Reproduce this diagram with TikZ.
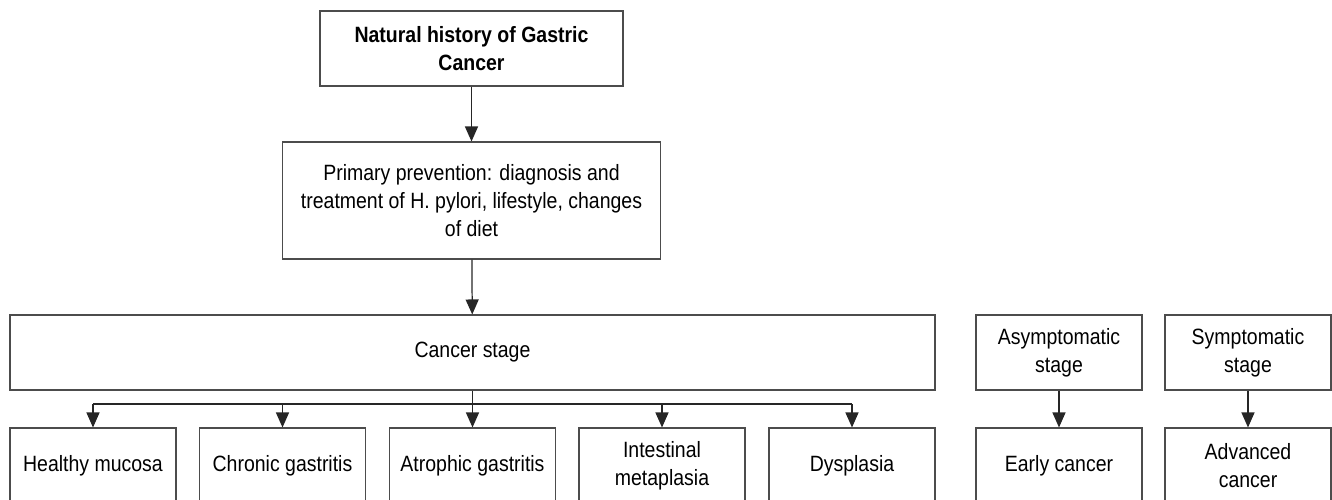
\documentclass[tikz,border=0pt]{standalone}
\usepackage{fontspec}
\setmainfont{Liberation Sans}[FakeStretch=0.88]
\usetikzlibrary{arrows.meta, positioning}
\tikzset{
  box/.style={draw=black!70, line width=0.6pt, minimum width=3.32cm, minimum height=1.5cm, align=center, inner sep=2pt, font=\fontsize{12.6}{16}\selectfont},
  titlebox/.style={box, font=\fontsize{12.6}{16}\selectfont\bfseries},
  arr/.style={-{Triangle[length=0.3cm, width=0.26cm]}, black!85, line width=0.7pt},
  link/.style={black!85, line width=0.7pt}
}

\begin{document}
\begin{tikzpicture}
\useasboundingbox (0,0) rectangle (26.64,9.98);
\clip (0,0) rectangle (26.64,9.98);
\node[titlebox, minimum width=6.06cm] (hist) at (9.43,9.01) {Natural history of Gastric\\Cancer};
\node[box, minimum width=7.56cm, minimum height=2.34cm] (prev) at (9.43,5.97) {Primary prevention: diagnosis and\\treatment of H. pylori, lifestyle, changes\\of diet};
\node[box, minimum width=18.5cm] (stage) at (9.45,2.93) {Cancer stage};
\node[box] (asym) at (21.18,2.93) {Asymptomatic\\stage};
\node[box] (symp) at (24.96,2.93) {Symptomatic\\stage};
\node[box] (healthy) at (1.86,0.67) {Healthy mucosa};
\node[box] (chronic) at (5.65,0.67) {Chronic gastritis};
\node[box] (atroph) at (9.45,0.67) {Atrophic gastritis};
\node[box] (intest) at (13.24,0.67) {Intestinal\\metaplasia};
\node[box] (dysp) at (17.04,0.67) {Dysplasia};
\node[box] (early) at (21.18,0.67) {Early cancer};
\node[box] (adv) at (24.96,0.67) {Advanced\\cancer};
\coordinate (branch) at (0,1.9);
\draw[arr] (hist) -- (prev);
\draw[arr] (prev) -- (stage);
\draw[link] (stage.south) -- (stage.south |- branch);
\draw[link] (healthy.north |- branch) -- (dysp.north |- branch);
\foreach \n in {healthy,chronic,atroph,intest,dysp}
  \draw[arr] (\n.north |- branch) -- (\n);
\draw[arr] (asym) -- (early);
\draw[arr] (symp) -- (adv);
\end{tikzpicture}
\end{document}
